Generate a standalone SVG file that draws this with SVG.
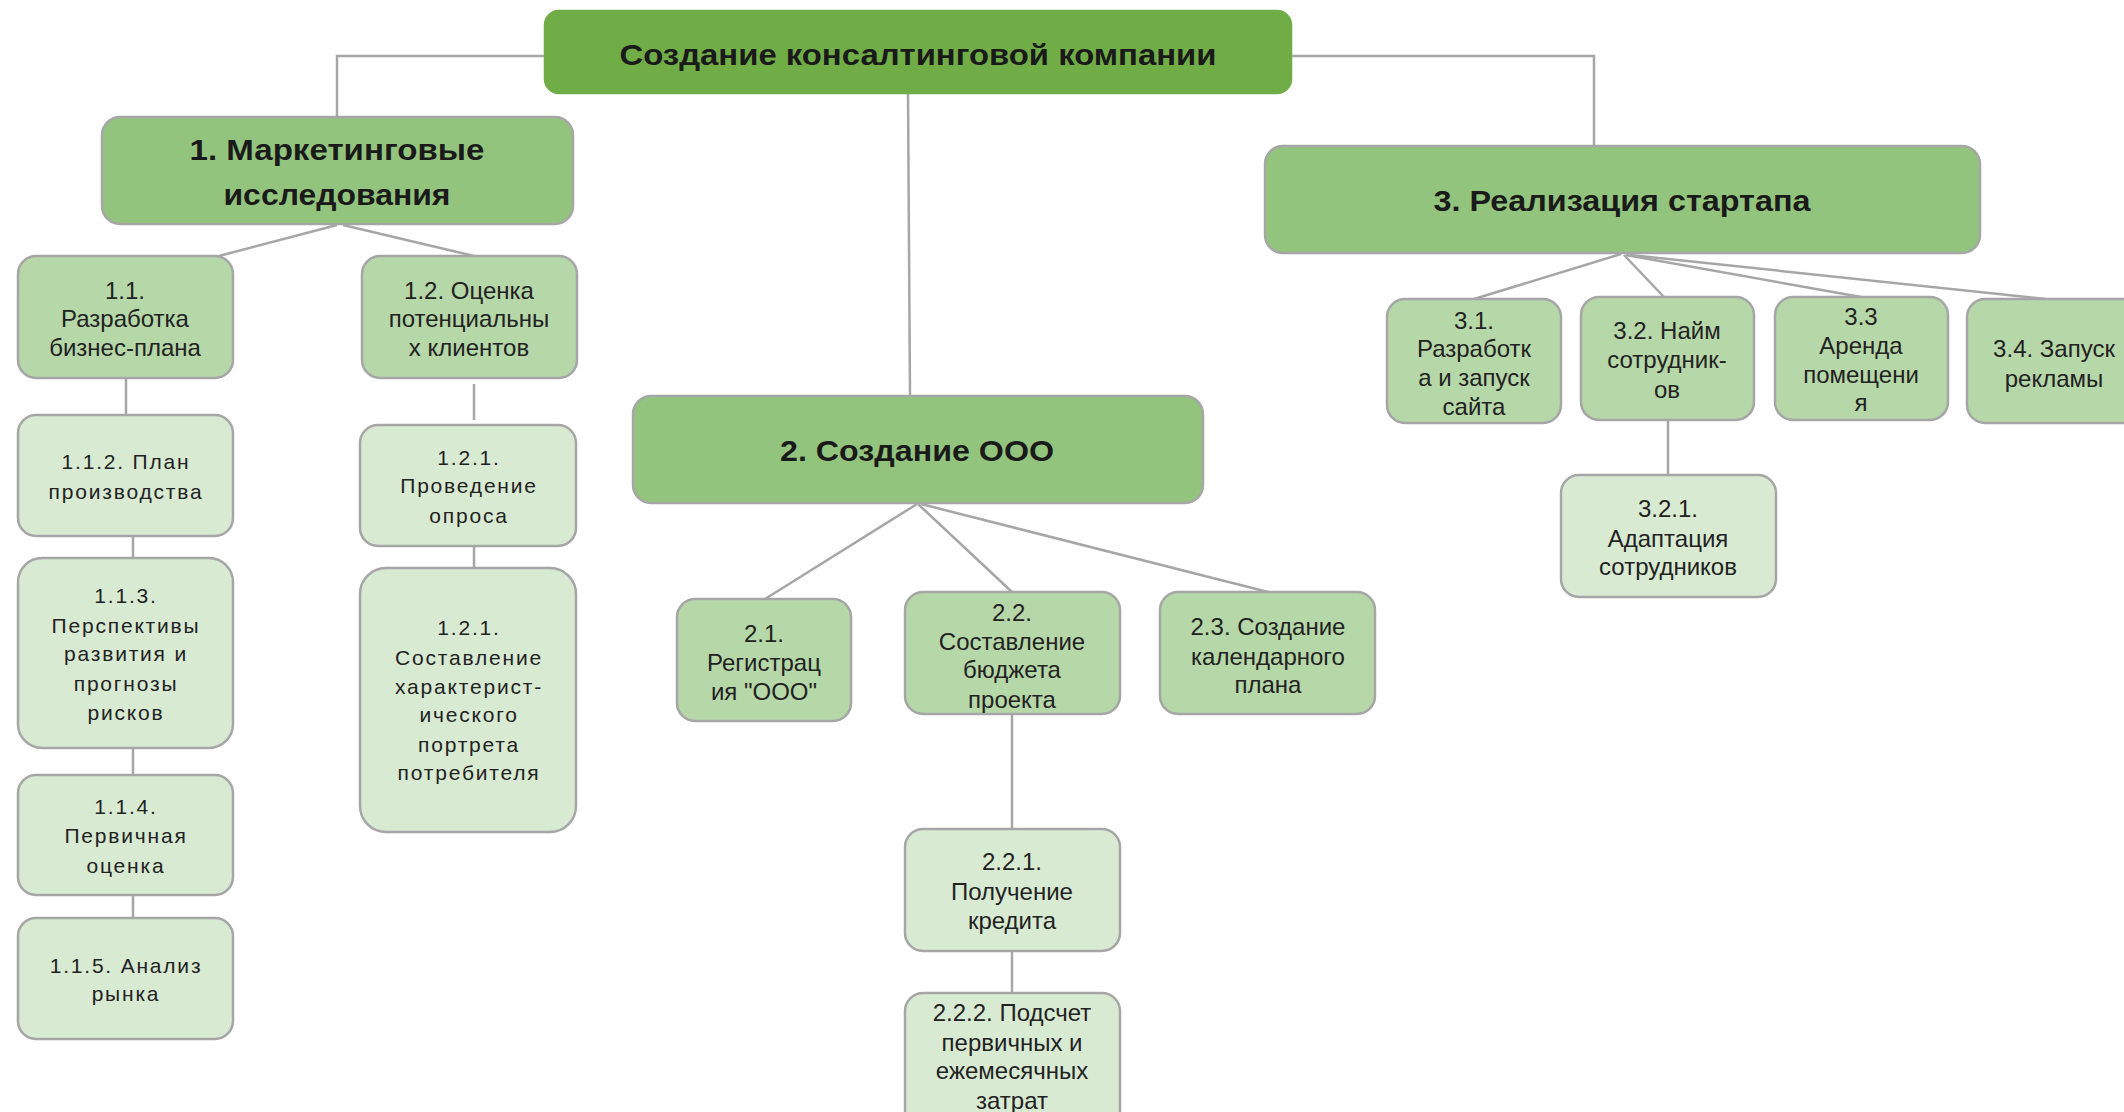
<svg xmlns="http://www.w3.org/2000/svg" width="2124" height="1112" viewBox="0 0 2124 1112">
<style>
  .box { stroke: #A6A6A6; stroke-width: 2.5; }
  .root { fill: #70AD47; }
  .l1 { fill: #93C47D; }
  .l2 { fill: #B6D7A8; }
  .l3 { fill: #D9EAD3; }
  .conn { stroke: #A6A6A6; stroke-width: 2.5; fill: none; }
  .tb { font-family: "Liberation Sans", Arial, sans-serif; font-weight: bold; font-size: 30px; fill: #1a1a1a; text-anchor: middle; }
  .tn { font-family: "Liberation Sans Narrow", "Liberation Sans", Arial, sans-serif; font-stretch: condensed; font-size: 24px; fill: #222; text-anchor: middle; }
  .tw { font-family: "Liberation Sans", Arial, sans-serif; font-size: 21px; letter-spacing: 1.8px; fill: #222; text-anchor: middle; }
</style>
<rect width="2124" height="1112" fill="#FFFFFF"/>

<g id="connectors">
  <polyline class="conn" points="545,56 337,56 337,117"/>
  <polyline class="conn" points="1291,56 1594,56 1594,146"/>
  <line class="conn" x1="908" y1="93" x2="910" y2="396"/>
  <line class="conn" x1="337" y1="225" x2="219" y2="256"/>
  <line class="conn" x1="343" y1="225" x2="474" y2="256"/>
  <line class="conn" x1="126" y1="378" x2="126" y2="415"/>
  <line class="conn" x1="133" y1="536" x2="133" y2="558"/>
  <line class="conn" x1="133" y1="748" x2="133" y2="775"/>
  <line class="conn" x1="133" y1="895" x2="133" y2="918"/>
  <line class="conn" x1="474" y1="384" x2="474" y2="420"/>
  <line class="conn" x1="474" y1="546" x2="474" y2="567"/>
  <line class="conn" x1="917" y1="504" x2="765" y2="599"/>
  <line class="conn" x1="918" y1="504" x2="1012" y2="592"/>
  <line class="conn" x1="921" y1="504" x2="1268" y2="592"/>
  <line class="conn" x1="1012" y1="714" x2="1012" y2="829"/>
  <line class="conn" x1="1012" y1="951" x2="1012" y2="993"/>
  <line class="conn" x1="1621" y1="254" x2="1474" y2="299"/>
  <line class="conn" x1="1624" y1="255" x2="1664" y2="297"/>
  <line class="conn" x1="1626" y1="255" x2="1861" y2="297"/>
  <line class="conn" x1="1630" y1="255" x2="2046" y2="299"/>
  <line class="conn" x1="1668" y1="420" x2="1668" y2="475"/>
</g>

<g id="root">
  <rect class="box root" x="545" y="11" width="746" height="82" rx="14" style="stroke:#70AD47"/>
  <text class="tb" x="918" y="65" textLength="597" lengthAdjust="spacingAndGlyphs">Создание консалтинговой компании</text>
</g>

<g id="n1">
  <rect class="box l1" x="102" y="117" width="471" height="107" rx="18"/>
  <text class="tb" x="337" y="160" textLength="295" lengthAdjust="spacingAndGlyphs">1. Маркетинговые</text>
  <text class="tb" x="337" y="205" textLength="227" lengthAdjust="spacingAndGlyphs">исследования</text>
</g>

<g id="n2">
  <rect class="box l1" x="633" y="396" width="570" height="107" rx="18"/>
  <text class="tb" x="917" y="461" textLength="274" lengthAdjust="spacingAndGlyphs">2. Создание ООО</text>
</g>

<g id="n3">
  <rect class="box l1" x="1265" y="146" width="715" height="107" rx="18"/>
  <text class="tb" x="1622" y="211" textLength="377" lengthAdjust="spacingAndGlyphs">3. Реализация стартапа</text>
</g>

<g id="n1-1">
  <rect class="box l2" x="18" y="256" width="215" height="122" rx="18"/>
  <text class="tn" x="125" y="299">1.1.</text>
  <text class="tn" x="125" y="327">Разработка</text>
  <text class="tn" x="125" y="356">бизнес-плана</text>
</g>

<g id="n1-2">
  <rect class="box l2" x="362" y="256" width="215" height="122" rx="18"/>
  <text class="tn" x="469" y="299">1.2. Оценка</text>
  <text class="tn" x="469" y="327">потенциальны</text>
  <text class="tn" x="469" y="356">х клиентов</text>
</g>

<g id="n1-1-2">
  <rect class="box l3" x="18" y="415" width="215" height="121" rx="18"/>
  <text class="tw" x="126" y="469">1.1.2. План</text>
  <text class="tw" x="126" y="499">производства</text>
</g>

<g id="n1-1-3">
  <rect class="box l3" x="18" y="558" width="215" height="190" rx="24"/>
  <text class="tw" x="126" y="603">1.1.3.</text>
  <text class="tw" x="126" y="633">Перспективы</text>
  <text class="tw" x="126" y="661">развития и</text>
  <text class="tw" x="126" y="691">прогнозы</text>
  <text class="tw" x="126" y="720">рисков</text>
</g>

<g id="n1-1-4">
  <rect class="box l3" x="18" y="775" width="215" height="120" rx="18"/>
  <text class="tw" x="126" y="814">1.1.4.</text>
  <text class="tw" x="126" y="843">Первичная</text>
  <text class="tw" x="126" y="873">оценка</text>
</g>

<g id="n1-1-5">
  <rect class="box l3" x="18" y="918" width="215" height="121" rx="18"/>
  <text class="tw" x="126" y="973">1.1.5. Анализ</text>
  <text class="tw" x="126" y="1001">рынка</text>
</g>

<g id="n1-2-1">
  <rect class="box l3" x="360" y="425" width="216" height="121" rx="18"/>
  <text class="tw" x="469" y="465">1.2.1.</text>
  <text class="tw" x="469" y="493">Проведение</text>
  <text class="tw" x="469" y="523">опроса</text>
</g>

<g id="n1-2-1b">
  <rect class="box l3" x="360" y="568" width="216" height="264" rx="26"/>
  <text class="tw" x="469" y="635">1.2.1.</text>
  <text class="tw" x="469" y="665">Составление</text>
  <text class="tw" x="469" y="694">характерист-</text>
  <text class="tw" x="469" y="722">ического</text>
  <text class="tw" x="469" y="752">портрета</text>
  <text class="tw" x="469" y="780">потребителя</text>
</g>

<g id="n2-1">
  <rect class="box l2" x="677" y="599" width="174" height="122" rx="18"/>
  <text class="tn" x="764" y="642">2.1.</text>
  <text class="tn" x="764" y="671">Регистрац</text>
  <text class="tn" x="764" y="700">ия "ООО"</text>
</g>

<g id="n2-2">
  <rect class="box l2" x="905" y="592" width="215" height="122" rx="18"/>
  <text class="tn" x="1012" y="621">2.2.</text>
  <text class="tn" x="1012" y="650">Составление</text>
  <text class="tn" x="1012" y="678">бюджета</text>
  <text class="tn" x="1012" y="708">проекта</text>
</g>

<g id="n2-3">
  <rect class="box l2" x="1160" y="592" width="215" height="122" rx="18"/>
  <text class="tn" x="1268" y="635">2.3. Создание</text>
  <text class="tn" x="1268" y="665">календарного</text>
  <text class="tn" x="1268" y="693">плана</text>
</g>

<g id="n2-2-1">
  <rect class="box l3" x="905" y="829" width="215" height="122" rx="18"/>
  <text class="tn" x="1012" y="870">2.2.1.</text>
  <text class="tn" x="1012" y="900">Получение</text>
  <text class="tn" x="1012" y="929">кредита</text>
</g>

<g id="n2-2-2">
  <rect class="box l3" x="905" y="993" width="215" height="140" rx="18"/>
  <text class="tn" x="1012" y="1021">2.2.2. Подсчет</text>
  <text class="tn" x="1012" y="1051">первичных и</text>
  <text class="tn" x="1012" y="1079">ежемесячных</text>
  <text class="tn" x="1012" y="1109">затрат</text>
</g>

<g id="n3-1">
  <rect class="box l2" x="1387" y="299" width="174" height="124" rx="18"/>
  <text class="tn" x="1474" y="329">3.1.</text>
  <text class="tn" x="1474" y="357">Разработк</text>
  <text class="tn" x="1474" y="386">а и запуск</text>
  <text class="tn" x="1474" y="415">сайта</text>
</g>

<g id="n3-2">
  <rect class="box l2" x="1581" y="297" width="173" height="123" rx="18"/>
  <text class="tn" x="1667" y="339">3.2. Найм</text>
  <text class="tn" x="1667" y="368">сотрудник-</text>
  <text class="tn" x="1667" y="398">ов</text>
</g>

<g id="n3-3">
  <rect class="box l2" x="1775" y="297" width="173" height="123" rx="18"/>
  <text class="tn" x="1861" y="325">3.3</text>
  <text class="tn" x="1861" y="354">Аренда</text>
  <text class="tn" x="1861" y="383">помещени</text>
  <text class="tn" x="1861" y="411">я</text>
</g>

<g id="n3-4">
  <rect class="box l2" x="1967" y="299" width="180" height="124" rx="18"/>
  <text class="tn" x="2054" y="357">3.4. Запуск</text>
  <text class="tn" x="2054" y="387">рекламы</text>
</g>

<g id="n3-2-1">
  <rect class="box l3" x="1561" y="475" width="215" height="122" rx="18"/>
  <text class="tn" x="1668" y="517">3.2.1.</text>
  <text class="tn" x="1668" y="547">Адаптация</text>
  <text class="tn" x="1668" y="575">сотрудников</text>
</g>
</svg>
